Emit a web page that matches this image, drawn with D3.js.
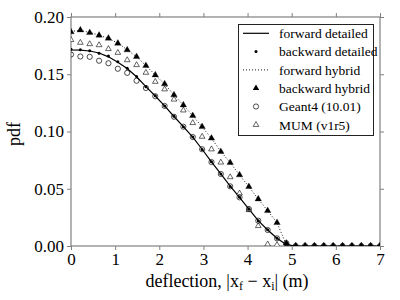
<!DOCTYPE html>
<html><head><meta charset="utf-8">
<script src="https://cdn.jsdelivr.net/npm/d3@7"></script>
</head><body style="margin:0;background:#fff">
<svg id="c" width="400" height="300" style="display:block"></svg>
<script>
// ---- data ----
const xs = [0, 0.212, 0.424, 0.636, 0.848, 1.061, 1.273, 1.485, 1.697, 1.909, 2.121, 2.333, 2.545, 2.758, 2.970, 3.182, 3.394, 3.606, 3.818, 4.030, 4.242, 4.455, 4.667, 4.879, 5.091, 5.303, 5.515, 5.727, 5.939, 6.152, 6.364, 6.576, 6.788, 7.000];
const forwardDetailed = [0.1712, 0.1710, 0.1703, 0.1686, 0.1652, 0.1605, 0.1550, 0.1478, 0.1392, 0.1310, 0.1224, 0.1131, 0.1043, 0.0950, 0.0845, 0.0734, 0.0630, 0.0522, 0.0425, 0.0323, 0.0222, 0.0140, 0.0068, 0.0012, 0, 0, 0, 0, 0, 0, 0, 0, 0, 0];
const backwardDetailed = [0.1718, 0.1714, 0.1706, 0.1683, 0.1660, 0.1610, 0.1552, 0.1480, 0.1390, 0.1312, 0.1222, 0.1133, 0.1041, 0.0952, 0.0843, 0.0735, 0.0628, 0.0520, 0.0426, 0.0322, 0.0221, 0.0141, 0.0067, 0.0016, 0, 0, 0, 0, 0, 0, 0, 0, 0, 0];
const forwardHybrid = [0.1875, 0.1882, 0.1865, 0.1842, 0.1812, 0.1772, 0.1714, 0.1652, 0.1576, 0.1494, 0.1414, 0.1320, 0.1230, 0.1138, 0.1040, 0.0940, 0.0826, 0.0728, 0.0620, 0.0518, 0.0410, 0.0308, 0.0203, 0.0010, 0, 0, 0, 0, 0, 0, 0, 0, 0, 0];
const backwardHybrid = [0.1870, 0.1886, 0.1863, 0.1840, 0.1814, 0.1770, 0.1712, 0.1653, 0.1575, 0.1493, 0.1415, 0.1319, 0.1231, 0.1138, 0.1042, 0.0941, 0.0824, 0.0728, 0.0620, 0.0518, 0.0410, 0.0308, 0.0203, 0.0024, 0, 0, 0, 0, 0, 0, 0, 0, 0, 0];
const geant4 = [0.1672, 0.1655, 0.1652, 0.1618, 0.1596, 0.1548, 0.1512, 0.1443, 0.1380, 0.1308, 0.1223, 0.1129, 0.1042, 0.0952, 0.0845, 0.0733, 0.0629, 0.0521, 0.0425, 0.0323, 0.0221, 0.0140, 0.0067, 0.0024, 0, 0, 0, 0, 0, 0, 0, 0, 0, 0];
const mum = [0.1800, 0.1776, 0.1764, 0.1755, 0.1721, 0.1688, 0.1624, 0.1581, 0.1514, 0.1435, 0.1369, 0.1280, 0.1185, 0.1075, 0.0955, 0.0845, 0.0730, 0.0602, 0.0460, 0.0315, 0.0175, 0.0015, 0.0010, 0, 0, 0, 0, 0, 0, 0, 0, 0, 0, 0];
const xTicks = [0, 1, 2, 3, 4, 5, 6, 7];
const yTicks = [0.00, 0.05, 0.10, 0.15, 0.20];
const legendLabels = ["forward detailed", "backward detailed", "forward hybrid", "backward hybrid", "Geant4 (10.01)", "MUM (v1r5)"];

// ---- layout ----
const W = 400, H = 300;
const m = {l: 71, r: 20, t: 17, b: 54};
const svg = d3.select("#c");
const FONT = '"Liberation Serif"';
const x = d3.scaleLinear().domain([0, 7]).range([m.l, W - m.r]);
const y = d3.scaleLinear().domain([0, 0.20]).range([H - m.b, m.t]);
const axisCol = "#808080";
const triUp = d3.symbol().type(d3.symbolTriangle);
const pts = arr => xs.map((v, i) => [v, arr[i]]);
const line = d3.line().x(d => x(d[0])).y(d => y(d[1]));

function styleAxis(g) {
  g.attr("font-family", null);
  g.select(".domain").remove();
  g.selectAll(".tick line").attr("stroke", axisCol).attr("stroke-width", 1);
  g.selectAll(".tick text").attr("fill", "#000").style("font-family", FONT).attr("font-size", 17);
}
function tri(g, data, size, filled) {
  g.selectAll(null).data(data).enter().append("path")
    .attr("d", triUp.size(size)())
    .attr("transform", d => `translate(${x(d[0])},${y(d[1])})`)
    .attr("fill", filled ? "#000" : "#fff")
    .attr("stroke", "#000").attr("stroke-width", filled ? 0.3 : 0.6);
}

function draw() {
  svg.selectAll("*").remove();
  svg.append("defs").append("clipPath").attr("id", "clip")
    .append("rect").attr("x", m.l).attr("y", m.t)
    .attr("width", W - m.r - m.l).attr("height", H - m.b - m.t);

  svg.append("g").attr("transform", `translate(0,${H - m.b})`)
    .call(d3.axisBottom(x).tickValues(xTicks).tickSize(4).tickPadding(3).tickFormat(d3.format("d")))
    .call(styleAxis);
  svg.append("g").attr("transform", `translate(${m.l},0)`)
    .call(d3.axisLeft(y).tickValues(yTicks).tickSize(4).tickPadding(3).tickFormat(d3.format(".2f")))
    .call(styleAxis);
  svg.append("g").attr("transform", `translate(0,${m.t})`)
    .call(d3.axisTop(x).tickValues(xTicks).tickSize(4).tickFormat(""))
    .call(styleAxis);
  svg.append("g").attr("transform", `translate(${W - m.r},0)`)
    .call(d3.axisRight(y).tickValues(yTicks).tickSize(4).tickFormat(""))
    .call(styleAxis);

  svg.append("rect").attr("x", m.l).attr("y", m.t)
    .attr("width", W - m.r - m.l).attr("height", H - m.b - m.t)
    .attr("fill", "none").attr("stroke", axisCol).attr("stroke-width", 1.2);

  const plot = svg.append("g").attr("clip-path", "url(#clip)");
  plot.append("path").attr("d", line(pts(forwardDetailed)))
    .attr("fill", "none").attr("stroke", "#000").attr("stroke-width", 1.2);
  plot.append("path").attr("d", line(pts(forwardHybrid)))
    .attr("fill", "none").attr("stroke", "#000").attr("stroke-width", 0.9).attr("stroke-dasharray", "1,2");
  tri(plot, pts(mum), 14, false);
  plot.selectAll(null).data(pts(geant4)).enter().append("circle")
    .attr("cx", d => x(d[0])).attr("cy", d => y(d[1])).attr("r", 2.6)
    .attr("fill", "none").attr("stroke", "#000").attr("stroke-width", 0.7);
  tri(plot, pts(backwardHybrid), 18, true);
  plot.selectAll(null).data(pts(backwardDetailed)).enter().append("circle")
    .attr("cx", d => x(d[0])).attr("cy", d => y(d[1])).attr("r", 1.5).attr("fill", "#000");

  // labels
  svg.append("text").attr("x", 227).attr("y", 287).attr("text-anchor", "middle")
    .style("font-family", FONT).attr("font-size", 18)
    .html('deflection,  |x<tspan font-size="12" dy="3">f</tspan><tspan dy="-3"> − x</tspan><tspan font-size="12" dy="3">i</tspan><tspan dy="-3">| (m)</tspan>');
  svg.append("text").attr("transform", "translate(20,134) rotate(-90)").attr("text-anchor", "middle")
    .style("font-family", FONT).attr("font-size", 18).text("pdf");

  // legend
  const lg = svg.append("g");
  lg.append("rect").attr("x", 238.5).attr("y", 24.5).attr("width", 135).attr("height", 111)
    .attr("fill", "#fff").attr("stroke", "#222").attr("stroke-width", 1);
  const rowY = [33.3, 51.6, 69.9, 88.2, 106.5, 124.8];
  const hx = 256;
  lg.append("line").attr("x1", 243).attr("x2", 269).attr("y1", rowY[0]).attr("y2", rowY[0])
    .attr("stroke", "#000").attr("stroke-width", 1.2);
  lg.append("circle").attr("cx", hx).attr("cy", rowY[1]).attr("r", 1.5).attr("fill", "#000");
  lg.append("line").attr("x1", 243).attr("x2", 269).attr("y1", rowY[2]).attr("y2", rowY[2])
    .attr("stroke", "#000").attr("stroke-width", 0.9).attr("stroke-dasharray", "1,2");
  lg.append("path").attr("d", triUp.size(18)()).attr("transform", `translate(${hx},${rowY[3]})`).attr("fill", "#000");
  lg.append("circle").attr("cx", hx).attr("cy", rowY[4]).attr("r", 2.6).attr("fill", "none").attr("stroke", "#000").attr("stroke-width", 0.7);
  lg.append("path").attr("d", triUp.size(14)()).attr("transform", `translate(${hx},${rowY[5]})`)
    .attr("fill", "#fff").attr("stroke", "#000").attr("stroke-width", 0.6);
  lg.selectAll(null).data(legendLabels).enter().append("text")
    .attr("x", 279).attr("y", (d, i) => rowY[i]).attr("dy", "0.35em")
    .style("font-family", FONT).attr("font-size", 13.5).text(d => d);
}

draw();
if (document.fonts && document.fonts.load) {
  document.fonts.load('17px "Liberation Serif"').then(() => setTimeout(draw, 20));
}
</script>
</body></html>
